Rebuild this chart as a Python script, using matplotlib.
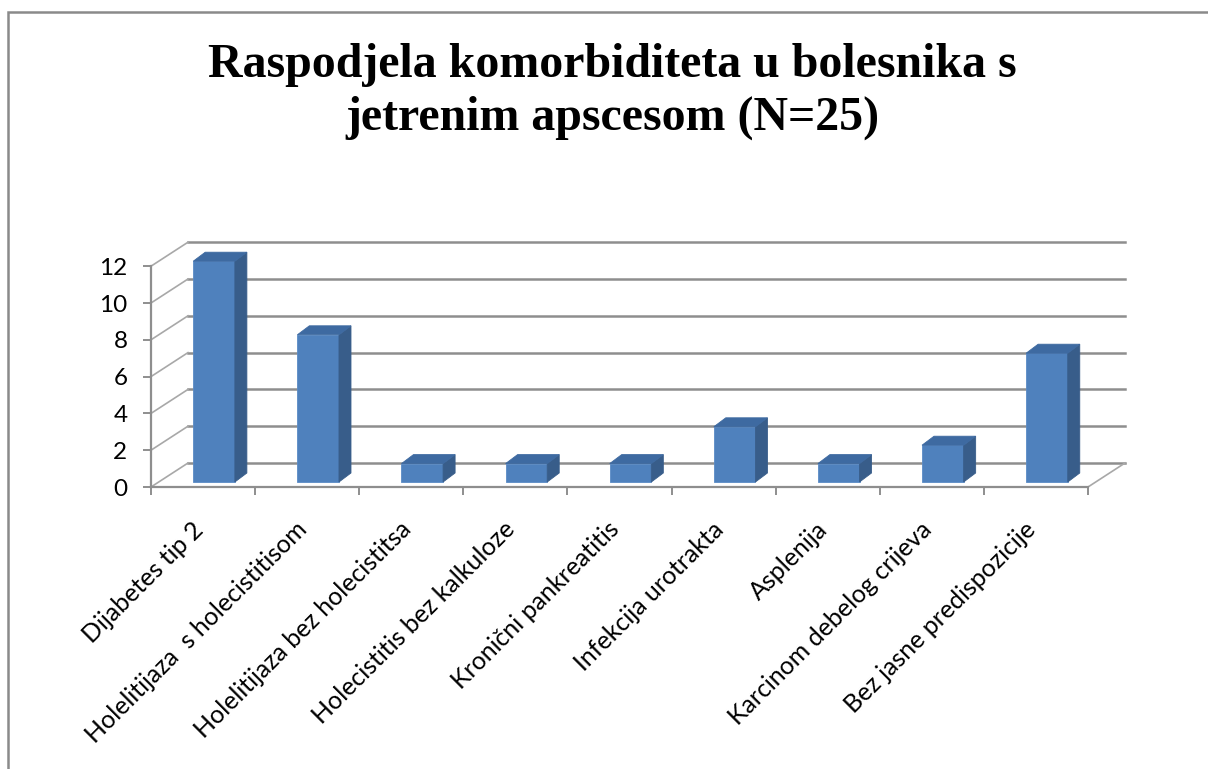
import matplotlib
matplotlib.use('Agg')
import matplotlib.pyplot as plt
import matplotlib.transforms as mtransforms
from matplotlib.patches import Rectangle, Polygon

# data
categories = ['Dijabetes tip 2', 'Holelitijaza  s holecistitisom', 'Holelitijaza bez holecistitsa',
              'Holecistitis bez kalkuloze', 'Kronični pankreatitis', 'Infekcija urotrakta',
              'Asplenija', 'Karcinom debelog crijeva', 'Bez jasne predispozicije']
counts = [12, 8, 1, 1, 1, 3, 1, 2, 7]
yticks = [0, 2, 4, 6, 8, 10, 12]
title_lines = ['Raspodjela komorbiditeta u bolesnika s', 'jetrenim apscesom (N=25)']

W, H = 1208, 769
# pixel geometry of the fake 3d box
x0_px, x9_px = 151, 1088     # front floor edge
y0_px = 487                  # value 0 on front edge
px_cat = (x9_px - x0_px) / 9.0
px_val = 18.4
DX, DY = 37 / px_cat, 24 / px_val        # wall depth in data units
SX, SY = 11 / px_cat, 5 / px_val          # bar front face offset
BX, BY = 12 / px_cat, 9 / px_val          # bar depth
bar_w = 0.4

front = '#4F81BD'
side = '#385D8A'
top = '#3E6AA1'
grid = '#8E8E8E'

fig = plt.figure(figsize=(W / 100, H / 100), dpi=100)
ax_right_px, ax_top_px = 1135, 232
ax = fig.add_axes([x0_px / W, (H - y0_px) / H, (ax_right_px - x0_px) / W, (y0_px - ax_top_px) / H])
ax.set_xlim(0, (ax_right_px - x0_px) / px_cat)
ax.set_ylim(0, (y0_px - ax_top_px) / px_val)
ax.patch.set_visible(False)

for s in ['top', 'right']:
    ax.spines[s].set_visible(False)
for s in ['left', 'bottom']:
    ax.spines[s].set_color(grid)
    ax.spines[s].set_linewidth(1.6)
ax.spines['left'].set_bounds(0, 12)
ax.spines['bottom'].set_bounds(0, len(categories))

# back wall gridlines and left wall
n = len(categories)
for v in yticks:
    ax.plot([DX, n + DX], [v + DY, v + DY], color=grid, lw=1.8, zorder=1)
    ax.plot([0, DX], [v, v + DY], color='#A8A8A8', lw=1.2, zorder=1)
ax.plot([n, n + DX], [0, DY], color='#A8A8A8', lw=1.2, zorder=1)

ax.set_yticks(yticks)
ax.set_yticklabels([str(v) for v in yticks])
ax.tick_params(axis='y', length=6, width=1.4, color=grid, pad=11, labelsize=17.5)
ax.set_xticks(range(n + 1))
ax.set_xticklabels([])
ax.tick_params(axis='x', which='major', length=6, width=1.4, color=grid)
ax.set_xticks([i + 0.5 for i in range(n)], minor=True)
ax.set_xticklabels(categories, minor=True, rotation=45, ha='right', rotation_mode='anchor',
                   fontsize=18)
ax.tick_params(axis='x', which='minor', length=0, pad=22)
shift = mtransforms.ScaledTranslation(-12 / 100, 0, fig.dpi_scale_trans)
for lab in ax.get_xticklabels(minor=True):
    lab.set_fontfamily('Lato')
    lab.set_transform(lab.get_transform() + shift)
for lab in ax.get_yticklabels():
    lab.set_fontfamily('Lato')

# bars: front face through ax.bar, side and top faces from the same values
xs = [i + 0.5 + SX for i in range(n)]
ax.bar(xs, counts, width=bar_w, bottom=SY, color=front, edgecolor='#5A8BC6', lw=0.6, zorder=3)
for x, v in zip(xs, counts):
    l, r = x - bar_w / 2, x + bar_w / 2
    t = SY + v
    ax.add_patch(Polygon([(r, SY), (r + BX, SY + BY), (r + BX, t + BY), (r, t)],
                         closed=True, facecolor=side, edgecolor=side, lw=0.6, zorder=3))
    ax.add_patch(Polygon([(l, t), (l + BX, t + BY), (r + BX, t + BY), (r, t)],
                         closed=True, facecolor=top, edgecolor=top, lw=0.6, zorder=3))

for k, line in enumerate(title_lines):
    fig.text(612 / W, 1 - (77 + 53 * k) / H, line, ha='center', va='baseline', fontsize=34.5,
             fontweight='bold', family='Liberation Serif')

# outer frame of the chart area
fig.patches.append(Rectangle((8 / W, -0.1), 1.2, 1 - 12 / H + 0.1, transform=fig.transFigure,
                             fill=False, edgecolor='#8A8A8A', lw=1.8))

fig.savefig('out.png', dpi=100)
